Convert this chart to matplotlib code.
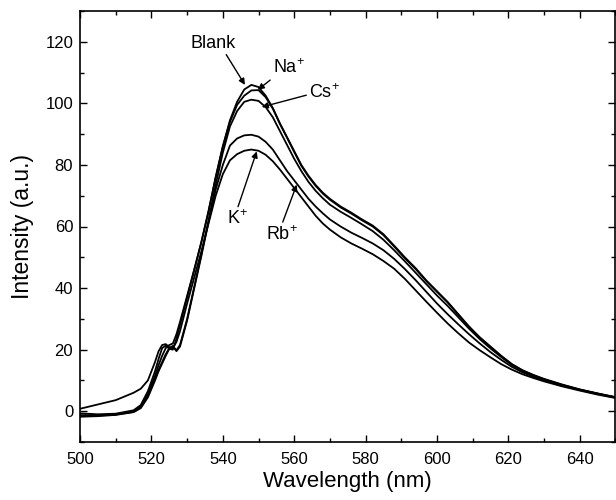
import matplotlib
matplotlib.use("Agg")
import matplotlib.pyplot as plt
from matplotlib.ticker import MultipleLocator

plt.rcParams['font.family'] = ['Liberation Sans', 'DejaVu Sans']
plt.rcParams['mathtext.default'] = 'regular'

wl = [500, 505, 510, 515, 517, 519, 521, 522, 523, 524, 525, 526, 527, 528,
      530, 532, 534, 536, 538, 540, 542, 544, 546, 548, 550, 552, 554, 556,
      558, 560, 562, 564, 566, 568, 570, 573, 576, 579, 582, 585, 588, 591,
      594, 597, 600, 603, 606, 609, 612, 615, 618, 621, 624, 627, 630, 635,
      640, 645, 650]

blank = [-1.3, -1.3, -1.0, 0.0, 1.5, 5.5, 11.5, 15.0, 18.0, 20.5, 21.5, 22.0, 25.0, 29.0,
         37.5, 46.0, 55.0, 65.0, 76.0, 86.0, 94.5, 100.5, 104.5, 106.0, 105.3, 102.5, 98.5, 93.5,
         89.0, 84.5, 80.0, 76.5, 73.5, 71.0, 69.0, 66.5, 64.5, 62.3, 60.3, 57.5, 53.8, 50.0,
         46.5, 42.5, 39.0, 35.5, 31.5, 27.5, 24.0, 21.0, 18.0, 15.3, 13.3, 11.8, 10.5, 8.7,
         7.1, 5.8, 4.6]
na = [-0.7, -1.0, -0.8, 0.3, 2.0, 6.5, 13.0, 17.0, 20.5, 21.3, 20.3, 20.0, 23.5, 28.0,
      37.0, 46.0, 55.0, 65.0, 76.0, 86.0, 94.0, 99.5, 102.5, 104.2, 104.3, 102.0, 98.3, 93.3,
      88.8, 84.2, 79.7, 76.2, 73.2, 70.7, 68.7, 66.2, 64.2, 62.0, 60.0, 57.2, 53.5, 49.7,
      46.2, 42.3, 38.8, 35.3, 31.3, 27.4, 23.9, 20.9, 17.9, 15.2, 13.2, 11.7, 10.4, 8.6,
      7.0, 5.7, 4.5]
cs = [-1.8, -1.6, -1.2, -0.3, 1.0, 4.5, 10.0, 13.0, 15.5, 18.0, 20.3, 21.0, 19.8, 21.5,
      30.0, 40.5, 51.0, 62.0, 73.5, 84.0, 92.5, 97.5, 100.5, 101.2, 100.8, 98.8, 95.5, 91.0,
      86.5, 82.0, 78.0, 74.5, 71.6, 69.2, 67.1, 64.8, 62.8, 60.7, 58.5, 55.7, 52.3, 48.7,
      45.0, 41.3, 37.6, 34.2, 30.5, 26.8, 23.4, 20.4, 17.6, 15.0, 13.0, 11.5, 10.3, 8.5,
      7.0, 5.7, 4.5]
rb = [-1.5, -1.4, -1.1, -0.2, 1.2, 5.0, 10.5, 13.5, 16.0, 18.5, 20.5, 21.2, 19.5, 21.0,
      29.5, 40.0, 50.5, 61.5, 72.0, 80.0, 86.3, 88.6, 89.6, 89.8, 89.2, 87.5, 85.0, 81.5,
      78.0, 75.0, 72.0, 69.0, 66.5, 64.3, 62.3, 60.0, 58.0, 56.3, 54.5, 52.3, 49.5, 46.2,
      42.6, 38.8, 35.0, 31.5, 28.2, 25.0, 22.0, 19.2, 16.7, 14.4, 12.6, 11.2, 10.0, 8.3,
      6.9, 5.6, 4.4]
k = [0.8, 2.2, 3.6, 6.0, 7.3, 10.0, 16.0, 19.5, 21.5, 21.8, 20.8, 20.5, 22.5, 26.0,
     35.0, 43.5, 52.0, 61.0, 70.0, 77.0, 81.5, 83.5, 84.6, 85.0, 84.6, 83.3, 81.2, 78.5,
     75.5, 72.5, 69.5, 66.5, 63.5, 61.0, 59.0, 56.5, 54.5, 52.8, 51.0, 48.8, 46.3, 43.0,
     39.3, 35.6, 32.0, 28.5, 25.3, 22.3, 19.8, 17.5, 15.3, 13.5, 12.0, 10.8, 9.7, 8.1,
     6.7, 5.4, 4.3]

fig = plt.figure(figsize=(6.16, 5.0), dpi=100)
ax = fig.add_axes([0.130, 0.116, 0.869, 0.862])

for series in [blank, na, cs, rb, k]:
    ax.plot(wl, series, color='black', lw=1.3)

ax.set_xlim(500, 650)
ax.set_ylim(-10, 130)
ax.xaxis.set_major_locator(MultipleLocator(20))
ax.xaxis.set_minor_locator(MultipleLocator(10))
ax.yaxis.set_major_locator(MultipleLocator(20))
ax.yaxis.set_minor_locator(MultipleLocator(10))
ax.tick_params(which='both', direction='in', top=True, right=True, labelsize=12)
ax.tick_params(which='major', length=5, width=1.0, pad=5)
ax.tick_params(axis='x', which='major', pad=7)
ax.tick_params(which='minor', length=3, width=1.0)
for s in ax.spines.values():
    s.set_linewidth(1.2)

ax.set_xlabel('Wavelength (nm)', fontsize=16, labelpad=3)
ax.set_ylabel('Intensity (a.u.)', fontsize=16.5, labelpad=8)

arrow = dict(arrowstyle='-|>', color='black', lw=1.0, mutation_scale=9,
             shrinkA=0, shrinkB=0)
ax.annotate('Blank', xy=(546.2, 106), xytext=(537.3, 119.5), fontsize=13,
            ha='center', va='center',
            arrowprops=dict(arrow, relpos=(0.75, 0.0)))
ax.annotate('Na$^{+}$', xy=(549.8, 104.4), xytext=(558.5, 111.5), fontsize=13,
            ha='center', va='center',
            arrowprops=dict(arrow, relpos=(0.1, 0.1)))
ax.annotate('Cs$^{+}$', xy=(550.9, 98.8), xytext=(568.5, 103.5), fontsize=13,
            ha='center', va='center',
            arrowprops=dict(arrow, relpos=(0.0, 0.4)))
ax.annotate('K$^{+}$', xy=(549.5, 84.4), xytext=(544.0, 62.5), fontsize=13,
            ha='center', va='center',
            arrowprops=dict(arrow, relpos=(0.5, 1.0)))
ax.annotate('Rb$^{+}$', xy=(560.7, 73.6), xytext=(556.5, 57.5), fontsize=13,
            ha='center', va='center',
            arrowprops=dict(arrow, relpos=(0.5, 1.0)))

fig.savefig('out.png', dpi=100)
